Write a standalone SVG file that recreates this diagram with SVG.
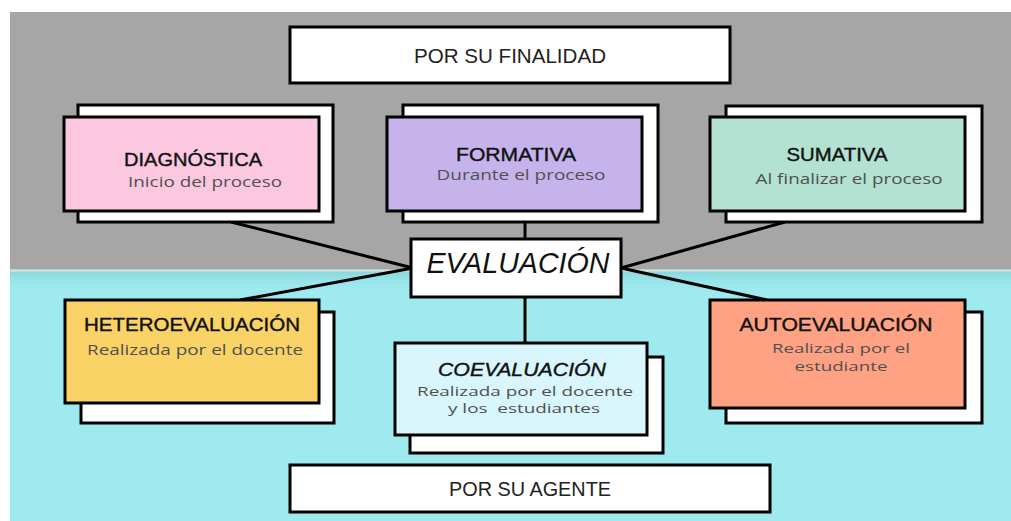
<svg xmlns="http://www.w3.org/2000/svg" width="1011" height="521" viewBox="0 0 1011 521">
<defs>
<linearGradient id="shade" x1="0" y1="0" x2="0" y2="1">
<stop offset="0" stop-color="#7fcfd4" stop-opacity="0.7"/>
<stop offset="1" stop-color="#9eeaee" stop-opacity="0"/>
</linearGradient>
</defs>
<style>
.box{stroke:#000;stroke-width:3}
.back{fill:#fff;stroke:#000;stroke-width:3}
.title{font-family:"Liberation Sans",sans-serif;font-size:19px;fill:#111;stroke:#111;stroke-width:0.4;text-anchor:middle}
.head{font-family:"Liberation Sans",sans-serif;font-size:21px;fill:#222;text-anchor:middle}
.sub{font-family:"Open Sans",sans-serif;font-size:15px;fill:#505050;text-anchor:middle}
.sub2{font-family:"Open Sans",sans-serif;font-size:13.5px;fill:#505050;text-anchor:middle}
.conn{stroke:#000;stroke-width:3;fill:none}
</style>
<rect x="0" y="0" width="1011" height="521" fill="#fff"/>
<rect x="10" y="12" width="1001" height="259" fill="#a6a6a6"/>
<rect x="10" y="271" width="1001" height="250" fill="#9eeaee"/>
<rect x="10" y="271" width="1001" height="22" fill="url(#shade)"/>
<line x1="10" y1="270.5" x2="1011" y2="270.5" stroke="#d8e8e8" stroke-width="2"/>

<g id="connectors">
<line class="conn" x1="231" y1="222" x2="413" y2="268"/>
<line class="conn" x1="525" y1="222" x2="525" y2="239"/>
<line class="conn" x1="785" y1="222" x2="621" y2="268"/>
<line class="conn" x1="413" y1="268" x2="240" y2="300"/>
<line class="conn" x1="621" y1="268" x2="767" y2="300"/>
<line class="conn" x1="525" y1="297" x2="525" y2="343"/>
</g>

<g id="finalidad">
<rect class="box" x="290" y="27" width="440" height="56" fill="#fff"/>
<text class="head" x="510" y="63" textLength="192" lengthAdjust="spacingAndGlyphs">POR SU FINALIDAD</text>
</g>

<g id="diagnostica">
<rect class="back" x="78" y="105" width="255" height="117"/>
<rect class="box" x="64" y="117" width="255" height="94" fill="#fbc8e0"/>
<text class="title" x="193" y="166" textLength="138" lengthAdjust="spacingAndGlyphs">DIAGNÓSTICA</text>
<text class="sub" x="205" y="187" textLength="154" lengthAdjust="spacingAndGlyphs">Inicio del proceso</text>
</g>

<g id="formativa">
<rect class="back" x="403" y="105" width="255" height="117"/>
<rect class="box" x="387" y="117" width="255" height="94" fill="#c6b3ec"/>
<text class="title" x="516" y="161" textLength="120" lengthAdjust="spacingAndGlyphs">FORMATIVA</text>
<text class="sub" x="521" y="180" textLength="169" lengthAdjust="spacingAndGlyphs">Durante el proceso</text>
</g>

<g id="sumativa">
<rect class="back" x="726" y="106" width="256" height="116"/>
<rect class="box" x="710" y="117" width="255" height="94" fill="#b3e1d2"/>
<text class="title" x="837" y="161" textLength="101" lengthAdjust="spacingAndGlyphs">SUMATIVA</text>
<text class="sub" x="849" y="184" textLength="187" lengthAdjust="spacingAndGlyphs">Al finalizar el proceso</text>
</g>

<g id="evaluacion">
<rect class="box" x="411" y="239" width="210" height="58" fill="#fff"/>
<text x="518" y="273" font-family="Liberation Sans,sans-serif" font-size="29" font-style="italic" fill="#111" text-anchor="middle" textLength="183" lengthAdjust="spacingAndGlyphs">EVALUACIÓN</text>
</g>

<g id="heteroevaluacion">
<rect class="back" x="81" y="312" width="253" height="111"/>
<rect class="box" x="65" y="300" width="254" height="103" fill="#f9d366"/>
<text class="title" x="192" y="331" textLength="216" lengthAdjust="spacingAndGlyphs">HETEROEVALUACIÓN</text>
<text class="sub" x="195" y="355" textLength="216" lengthAdjust="spacingAndGlyphs">Realizada por el docente</text>
</g>

<g id="coevaluacion">
<rect class="back" x="410" y="357" width="253" height="96"/>
<rect class="box" x="395" y="343" width="252" height="92" fill="#d9f6fc"/>
<text class="title" x="522" y="376" font-style="italic" textLength="168" lengthAdjust="spacingAndGlyphs">COEVALUACIÓN</text>
<text class="sub2" x="525" y="396" textLength="216" lengthAdjust="spacingAndGlyphs">Realizada por el docente</text>
<text class="sub2" x="524" y="413" xml:space="preserve" textLength="152" lengthAdjust="spacingAndGlyphs">y los  estudiantes</text>
</g>

<g id="autoevaluacion">
<rect class="back" x="726" y="312" width="256" height="111"/>
<rect class="box" x="710" y="300" width="255" height="108" fill="#fea283"/>
<text class="title" x="836" y="331" textLength="193" lengthAdjust="spacingAndGlyphs">AUTOEVALUACIÓN</text>
<text class="sub2" x="841" y="353" textLength="138" lengthAdjust="spacingAndGlyphs">Realizada por el</text>
<text class="sub2" x="841" y="371" textLength="93" lengthAdjust="spacingAndGlyphs">estudiante</text>
</g>

<g id="agente">
<rect class="box" x="290" y="465" width="480" height="47" fill="#fff"/>
<text class="head" x="530" y="496" textLength="162" lengthAdjust="spacingAndGlyphs">POR SU AGENTE</text>
</g>
</svg>
